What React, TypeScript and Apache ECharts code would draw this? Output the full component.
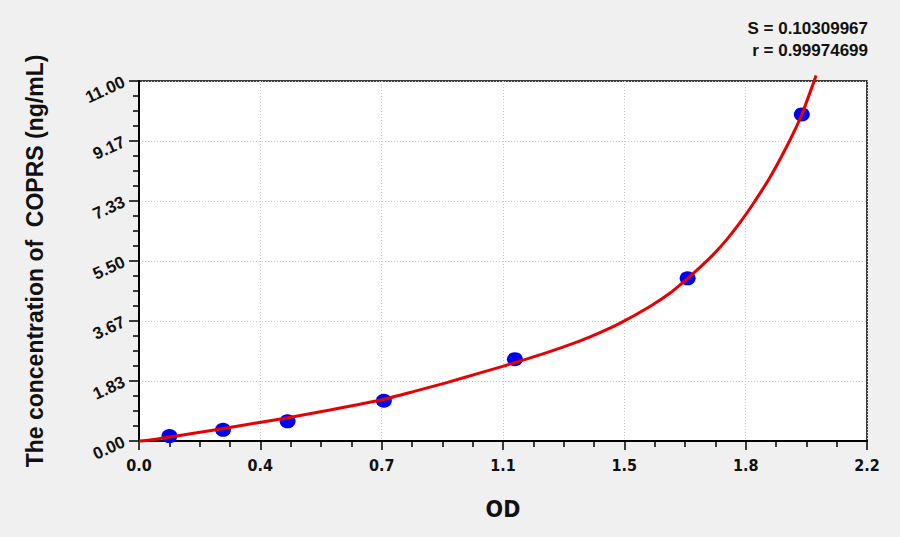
import { useRef, useEffect } from 'react'
import * as echarts from 'echarts'

// standards (OD, concentration ng/mL)
const pointOD = [0.092, 0.254, 0.449, 0.740, 1.136, 1.658, 2.003]
const pointConc = [0.15, 0.34, 0.6, 1.23, 2.5, 4.97, 9.98]

// fitted curve
const curveOD = [
  0, 0.033, 0.092, 0.174, 0.255, 0.364, 0.446, 0.577, 0.738, 0.829, 0.93, 1.031, 1.099,
  1.232, 1.333, 1.393, 1.454, 1.544, 1.605, 1.658, 1.695, 1.736, 1.776, 1.816, 1.856,
  1.907, 1.967, 2.003, 2.038, 2.046,
]
const curveConc = [
  0, 0.03, 0.12, 0.25, 0.383, 0.566, 0.704, 0.949, 1.27, 1.508, 1.784, 2.081, 2.28,
  2.7, 3.06, 3.31, 3.6, 4.11, 4.52, 4.972, 5.306, 5.703, 6.153, 6.67, 7.249,
  8.056, 9.189, 9.975, 10.933, 11.171,
]

const fitStats = ['S = 0.10309967', 'r = 0.99974699']

const xMax = 2.2
const yMax = 11
const tickCount = 6

const bold = "'Liberation Sans', Arial, sans-serif"
const narrow = "'Liberation Sans Narrow', 'Arial Narrow', 'DejaVu Sans Condensed', sans-serif"

export default function App() {
  const chartRef = useRef<HTMLDivElement>(null)

  useEffect(() => {
    document.body.style.margin = '0'
    if (!chartRef.current) return
    const chart = echarts.init(chartRef.current, null, { renderer: 'svg' })

    chart.setOption({
      animation: false,
      backgroundColor: '#f0f0f0',
      grid: {
        left: 139,
        right: 33,
        top: 81,
        bottom: 96,
        show: true,
        backgroundColor: '#ffffff',
        borderColor: '#000000',
        borderWidth: 1.5,
      },
      graphic: fitStats.map((t, i) => ({
        type: 'text',
        right: 32,
        top: 20 + i * 22,
        style: {
          text: t,
          fill: '#111111',
          font: `bold 17px ${bold}`,
          textAlign: 'right',
        },
      })),
      xAxis: {
        type: 'value',
        min: 0,
        max: xMax,
        interval: xMax / tickCount,
        name: 'OD',
        nameLocation: 'middle',
        nameGap: 56,
        nameTextStyle: { fontSize: 23, fontWeight: 'bold', color: '#111', fontFamily: narrow },
        axisLine: { show: true, lineStyle: { color: '#000', width: 2 } },
        axisTick: { show: true, length: 9, lineStyle: { color: '#000', width: 1.5 } },
        minorTick: { show: true, splitNumber: 4, length: 6, lineStyle: { color: '#000', width: 1.5 } },
        axisLabel: {
          margin: 16,
          fontSize: 16,
          fontWeight: 'bold',
          color: '#111',
          fontFamily: narrow,
          formatter: (v: number) => v.toFixed(1),
        },
        splitLine: { show: true, lineStyle: { color: '#c8c8c8', type: [1, 2], width: 1 } },
      },
      yAxis: {
        type: 'value',
        min: 0,
        max: yMax,
        interval: yMax / tickCount,
        name: 'The concentration of  COPRS (ng/mL)',
        nameLocation: 'middle',
        nameGap: 93,
        nameTextStyle: { fontSize: 23, fontWeight: 'bold', color: '#111', fontFamily: bold },
        axisLine: { show: true, lineStyle: { color: '#000', width: 2 } },
        axisTick: { show: true, length: 10, lineStyle: { color: '#000', width: 1.5 } },
        minorTick: { show: true, splitNumber: 4, length: 6, lineStyle: { color: '#000', width: 1.5 } },
        axisLabel: {
          margin: 15,
          rotate: 25,
          fontSize: 17,
          fontWeight: 'bold',
          color: '#111',
          fontFamily: bold,
          formatter: (v: number) => v.toFixed(2),
        },
        splitLine: { show: true, lineStyle: { color: '#c8c8c8', type: [1, 2], width: 1 } },
      },
      series: [
        {
          type: 'scatter',
          data: pointOD.map((x, i) => [x, pointConc[i]]),
          symbol: 'circle',
          symbolSize: [16, 14],
          itemStyle: { color: '#0000f0', opacity: 1 },
          z: 2,
        },
        {
          type: 'line',
          data: curveOD.map((x, i) => [x, curveConc[i]]),
          showSymbol: false,
          smooth: 0.15,
          clip: false,
          lineStyle: { color: '#e80000', width: 3 },
          z: 3,
        },
      ],
    })

    return () => {
      chart.dispose()
    }
  }, [])

  return <div ref={chartRef} style={{ width: 900, height: 537 }} />
}
